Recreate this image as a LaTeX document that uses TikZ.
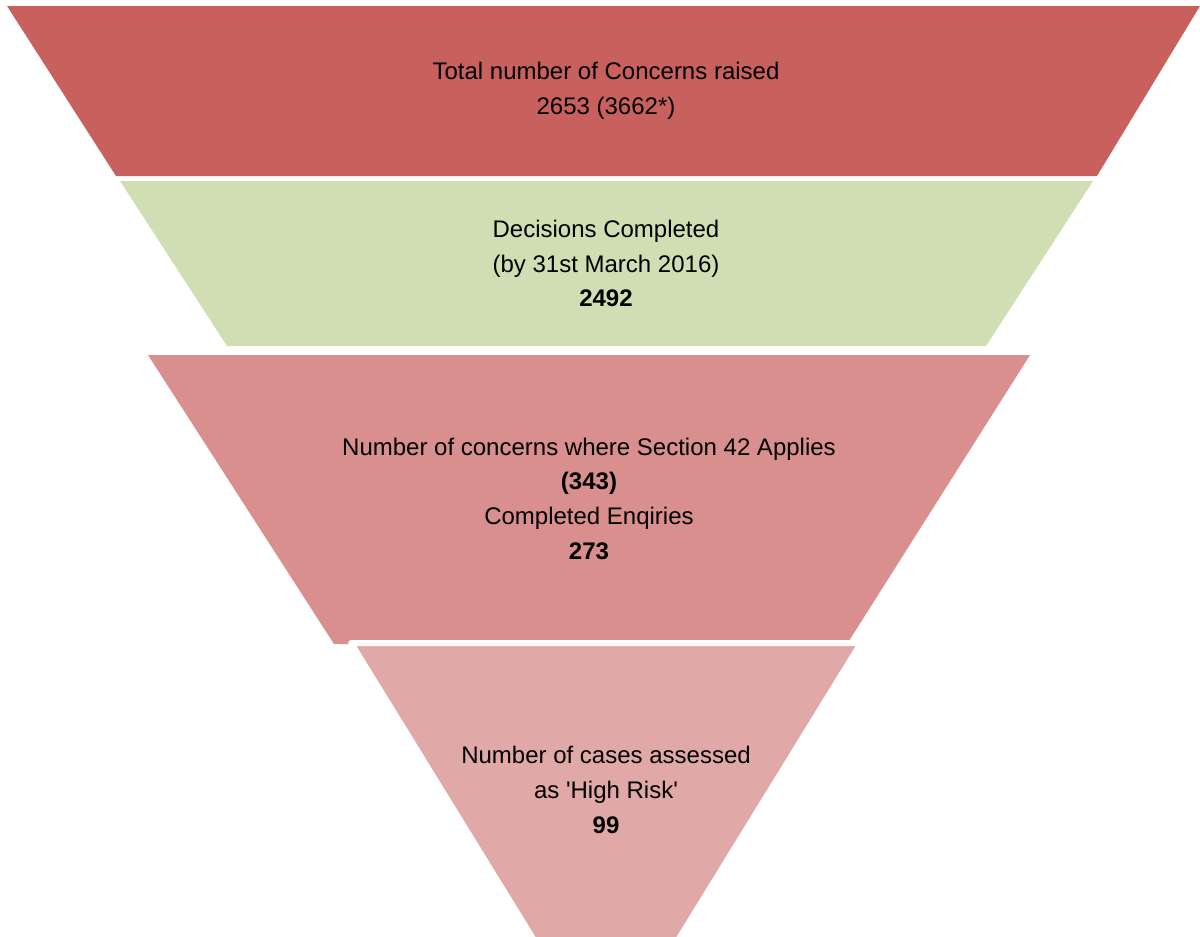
\documentclass[tikz,border=0pt]{standalone}
\usepackage{fontspec}
\setmainfont{Liberation Sans}[Ligatures=TeXOff]
\definecolor{cTop}{RGB}{200,97,93}
\definecolor{cGreen}{RGB}{208,223,179}
\definecolor{cMid}{RGB}{216,143,141}
\definecolor{cLow}{RGB}{224,168,167}
\tikzset{
  label/.style={align=center, font=\fontsize{18}{26}\selectfont, text=black, inner sep=0pt},
  tier/.style={line join=round},
}
\begin{document}
\begin{tikzpicture}[x=0.75pt,y=-0.75pt]
\useasboundingbox (0,0) rectangle (1200,936);
\begin{scope}
\clip (0,0) rectangle (1200,936);
% tier 1
\fill[cTop, tier] (7,6) -- (1200,6) -- (1097,176) -- (116,176) -- cycle;
% tier 2
\fill[cGreen, tier] (120,181) -- (1093,181) -- (986,346) -- (227,346) -- cycle;
% tier 3
\fill[cMid, tier] (148,355) -- (1030,355) -- (847,644) -- (334,644) -- cycle;
% tier 4 (white outline overlapping tier 3)
\filldraw[fill=cLow, draw=white, line width=4.5pt, tier] (351,643) -- (861,643) -- (672,950) -- (540,950) -- cycle;
\end{scope}
\node[label] (t1) at (606,90.5) {Total number of Concerns raised\\2653 (3662*)};
\node[label] (t2) at (606,263.5) {Decisions Completed\\(by 31st March 2016)\\\textbf{2492}};
\node[label] (t3) at (589,498.5) {Number of concerns where Section 42 Applies\\\textbf{(343)}\\Completed Enqiries\\\textbf{273}};
\node[label] (t4) at (606,790) {Number of cases assessed\\as 'High Risk'\\\textbf{99}};
\end{tikzpicture}
\end{document}
